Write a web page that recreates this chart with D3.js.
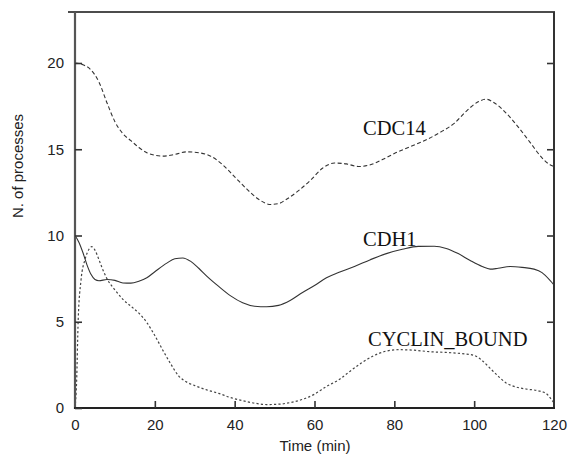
<!DOCTYPE html>
<html><head><meta charset="utf-8">
<script src="https://cdn.jsdelivr.net/npm/d3@7"></script>
<style>body{margin:0;background:#fff}svg{display:block}</style>
</head><body>
<script>
const time_cdc14 = [0,2,4,6,8,10,12,14,16,18,20,22,25,28,31,34,37,40,43,46,49,51,53,56,59,62,65,68,71,74,77,80,84,88,92,95,98,101,103,105,108,111,114,117,119,120];
const cdc14 =      [20,19.9,19.6,18.9,17.7,16.6,15.9,15.5,15.1,14.8,14.65,14.6,14.7,14.85,14.8,14.6,14.1,13.4,12.7,12.1,11.8,11.85,12.1,12.6,13.2,13.9,14.2,14.15,14.0,14.1,14.4,14.75,15.15,15.55,16.05,16.5,17.2,17.75,17.9,17.7,17.1,16.3,15.4,14.5,14.1,14.0];
const time_cdh1 = [0,1,2,3,4,5,6,8,10,12,14,16,18,20,23,25,27,29,31,33,36,39,42,45,48,51,54,57,60,63,66,70,74,78,82,86,90,93,96,99,102,104,106,109,112,115,117,119,120];
const cdh1 =      [10,9.6,9.0,8.3,7.75,7.45,7.38,7.45,7.4,7.25,7.24,7.35,7.55,7.9,8.4,8.65,8.7,8.5,8.1,7.65,7.05,6.5,6.1,5.9,5.87,5.95,6.25,6.7,7.1,7.55,7.85,8.2,8.6,8.95,9.2,9.37,9.38,9.25,8.95,8.55,8.2,8.05,8.1,8.2,8.15,8.05,7.85,7.4,7.13];
const time_cyclin = [0,0.4,0.8,1.5,2.5,3.5,4.2,5,6,7,8,10,12,14,16,18,20,22,24,26,28,30,33,36,39,42,45,48,51,54,57,60,63,66,69,72,75,78,81,85,89,93,97,100,102,104,106,108,110,113,116,118,119,120];
const cyclin =      [0,1.5,5.1,7.4,8.6,9.2,9.35,9.15,8.6,8.0,7.5,6.85,6.3,5.9,5.5,4.95,4.2,3.35,2.55,1.85,1.5,1.3,1.05,0.85,0.6,0.42,0.28,0.2,0.22,0.32,0.5,0.8,1.25,1.62,2.15,2.65,3.05,3.3,3.38,3.35,3.26,3.22,3.15,3.05,2.75,2.3,1.85,1.45,1.25,1.1,1.0,0.85,0.6,0.3];
const xTicks = [0,20,40,60,80,100,120];
const yTicks = [0,5,10,15,20];
const labels = ["CDC14","CDH1","CYCLIN_BOUND"];

const W=570,H=455;
const svg=d3.select("body").append("svg").attr("width",W).attr("height",H);
const x=d3.scaleLinear().domain([0,120]).range([75,554]);
const y=d3.scaleLinear().domain([0,20]).range([408,63]);
const topY=12;

// curves
const series=[
  {t:time_cdc14,v:cdc14,dash:"4,2.5",w:1.1,color:"#333"},
  {t:time_cdh1,v:cdh1,dash:null,w:1.1,color:"#333"},
  {t:time_cyclin,v:cyclin,dash:"2.2,2.2",w:1.2,color:"#444"}
];
const line=d3.line().x(d=>x(d[0])).y(d=>y(d[1])).curve(d3.curveMonotoneX);
series.forEach(s=>{
  svg.append("path").attr("d",line(d3.zip(s.t,s.v))).attr("fill","none")
    .attr("stroke",s.color).attr("stroke-width",s.w).attr("stroke-dasharray",s.dash);
});

// frame
svg.append("line").attr("x1",68).attr("x2",555).attr("y1",topY).attr("y2",topY).attr("stroke","#111").attr("stroke-width",1.5);
svg.append("line").attr("x1",75).attr("x2",75).attr("y1",topY).attr("y2",409).attr("stroke","#555").attr("stroke-width",2.2);
svg.append("line").attr("x1",554).attr("x2",554).attr("y1",topY).attr("y2",409).attr("stroke","#333").attr("stroke-width",2);
svg.append("line").attr("x1",74).attr("x2",555).attr("y1",408).attr("y2",408).attr("stroke","#222").attr("stroke-width",2);

// axes
const xAxis=d3.axisBottom(x).tickValues(xTicks).tickSizeInner(-7).tickSizeOuter(0).tickPadding(11);
const gx=svg.append("g").attr("transform","translate(0,408)").call(xAxis);
const yAxis=d3.axisLeft(y).tickValues(yTicks).tickSizeInner(-7).tickSizeOuter(0).tickPadding(11);
const gy=svg.append("g").attr("transform","translate(75,0)").call(yAxis);
const yAxisR=d3.axisRight(y).tickValues(yTicks.slice(1)).tickSizeInner(-7).tickSizeOuter(0).tickFormat("");
const gyr=svg.append("g").attr("transform","translate(554,0)").call(yAxisR);
[gx,gy,gyr].forEach(g=>{
  g.select(".domain").remove();
  g.selectAll(".tick line").attr("stroke","#333").attr("stroke-width",1.6);
  g.selectAll(".tick text").attr("font-family","Liberation Sans, Arial, sans-serif").attr("font-size",15).attr("fill","#222");
});
gx.selectAll(".tick line").filter(d=>d===0||d===120).remove();

// axis titles
svg.append("text").attr("x",315).attr("y",451).attr("text-anchor","middle")
  .attr("font-family","Liberation Sans, Arial, sans-serif").attr("font-size",15).attr("fill","#222").text("Time (min)");
svg.append("text").attr("transform","translate(23,166) rotate(-90)").attr("text-anchor","middle")
  .attr("font-family","Liberation Sans, Arial, sans-serif").attr("font-size",15).attr("fill","#222").text("N. of processes");

// series labels
const lab=[{x:363,y:135,t:labels[0]},{x:363,y:246,t:labels[1]},{x:368,y:346,t:labels[2]}];
lab.forEach(l=>svg.append("text").attr("x",l.x).attr("y",l.y).attr("font-family","Liberation Serif, Times New Roman, serif")
  .attr("font-size",20.5).attr("fill","#111").text(l.t));
</script>
</body></html>
